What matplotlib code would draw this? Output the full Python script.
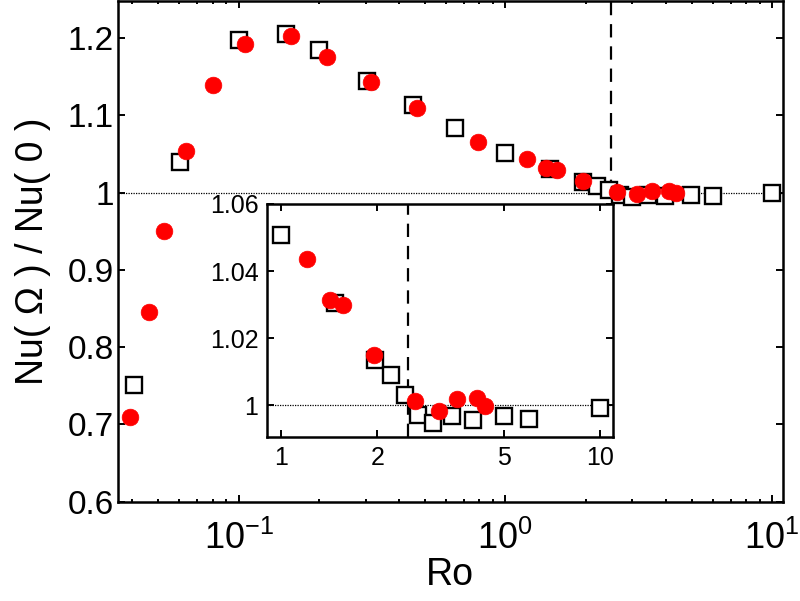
import matplotlib
matplotlib.use("Agg")
import matplotlib.pyplot as plt
from matplotlib.ticker import FixedLocator, FixedFormatter, LogLocator, NullFormatter, NullLocator

plt.rcParams['font.family'] = ['Liberation Sans', 'DejaVu Sans']
plt.rcParams['mathtext.fontset'] = 'custom'
plt.rcParams['mathtext.rm'] = 'Liberation Sans'
plt.rcParams['mathtext.default'] = 'regular'

# ---- data ----
ro_sq = [0.0407, 0.0605, 0.1005, 0.151, 0.200, 0.302, 0.452, 0.650, 1.00, 1.47,
         1.965, 2.205, 2.44, 2.69, 2.98, 3.44, 3.98, 4.99, 6.0, 10.0]
nu_sq = [0.751, 1.040, 1.198, 1.205, 1.185, 1.144, 1.113, 1.084, 1.0507, 1.0304,
         1.0134, 1.009, 1.003, 0.997, 0.9947, 0.9967, 0.9955, 0.9967, 0.996, 0.999]

ro_ci = [0.0393, 0.0463, 0.0527, 0.0635, 0.080, 0.1056, 0.157, 0.214, 0.315, 0.465,
         0.788, 1.204, 1.42, 1.56, 1.95, 2.62, 3.13, 3.56, 4.12, 4.35]
nu_ci = [0.710, 0.846, 0.951, 1.054, 1.139, 1.193, 1.203, 1.175, 1.143, 1.110,
         1.065, 1.0435, 1.0315, 1.0299, 1.0149, 1.0012, 0.9982, 1.0017, 1.002, 0.9997]

ro_crit = 2.5
main_yticks = [0.6, 0.7, 0.8, 0.9, 1.0, 1.1, 1.2]
main_yticklabels = ['0.6', '0.7', '0.8', '0.9', '1', '1.1', '1.2']
inset_xticks = [1, 2, 5, 10]
inset_xticklabels = ['1', '2', '5', '10']
inset_yticks = [1.0, 1.02, 1.04, 1.06]
inset_yticklabels = ['1', '1.02', '1.04', '1.06']

fig = plt.figure(figsize=(8.0, 6.01), dpi=100)

def style_axes(ax, lw=1.8):
    for s in ax.spines.values():
        s.set_linewidth(lw)
    ax.tick_params(which='both', direction='in', top=True, right=True, width=1.4)
    ax.tick_params(which='major', length=5)
    ax.tick_params(which='minor', length=2.5)

def draw_points(ax):
    ax.axhline(1.0, color='black', lw=0.9, ls=(0, (1, 1)), zorder=1)
    ax.plot(ro_sq, nu_sq, ls='none', marker='s', ms=11, mfc='white', mec='black',
            mew=1.7, zorder=3)
    ax.plot(ro_ci, nu_ci, ls='none', marker='o', ms=12, mfc='red', mec='red',
            mew=0.5, zorder=4)

# ---- main axes ----
ax = fig.add_axes([0.1471, 0.1652, 0.8316, 0.8331])
ax.set_xscale('log')
draw_points(ax)
ax.set_xlim(0.0352, 11.0)
ax.set_ylim(0.6, 1.248)
ax.vlines(ro_crit, 1.0, 1.248, colors='black', lw=1.6, linestyles=[(0, (6, 4))], zorder=1)
ax.yaxis.set_major_locator(FixedLocator(main_yticks))
ax.yaxis.set_major_formatter(FixedFormatter(main_yticklabels))
ax.xaxis.set_major_locator(LogLocator(base=10))
ax.xaxis.set_minor_locator(LogLocator(base=10, subs=range(2, 10)))
ax.xaxis.set_minor_formatter(NullFormatter())
style_axes(ax)
ax.tick_params(axis='y', labelsize=24, pad=3)
ax.tick_params(axis='x', which='major', labelsize=26, pad=14)
ax.set_xlabel('Ro', fontsize=27, labelpad=0)
ax.set_ylabel('Nu( Ω ) / Nu( 0 )', fontsize=27, labelpad=12)

# ---- inset ----
ins = fig.add_axes([0.3334, 0.2724, 0.4333, 0.3882])
ins.set_facecolor('white')
ins.set_xscale('log')
draw_points(ins)
ins.axvline(ro_crit, color='black', lw=1.6, ls=(0, (6, 4)), zorder=1)
ins.set_xlim(0.9, 11.0)
ins.set_ylim(0.9904, 1.06)
ins.xaxis.set_major_locator(FixedLocator(inset_xticks))
ins.xaxis.set_major_formatter(FixedFormatter(inset_xticklabels))
ins.xaxis.set_minor_locator(NullLocator())
ins.yaxis.set_major_locator(FixedLocator(inset_yticks))
ins.yaxis.set_major_formatter(FixedFormatter(inset_yticklabels))
style_axes(ins)
ins.tick_params(axis='both', labelsize=18, pad=6)

fig.savefig('out.png', dpi=100)
